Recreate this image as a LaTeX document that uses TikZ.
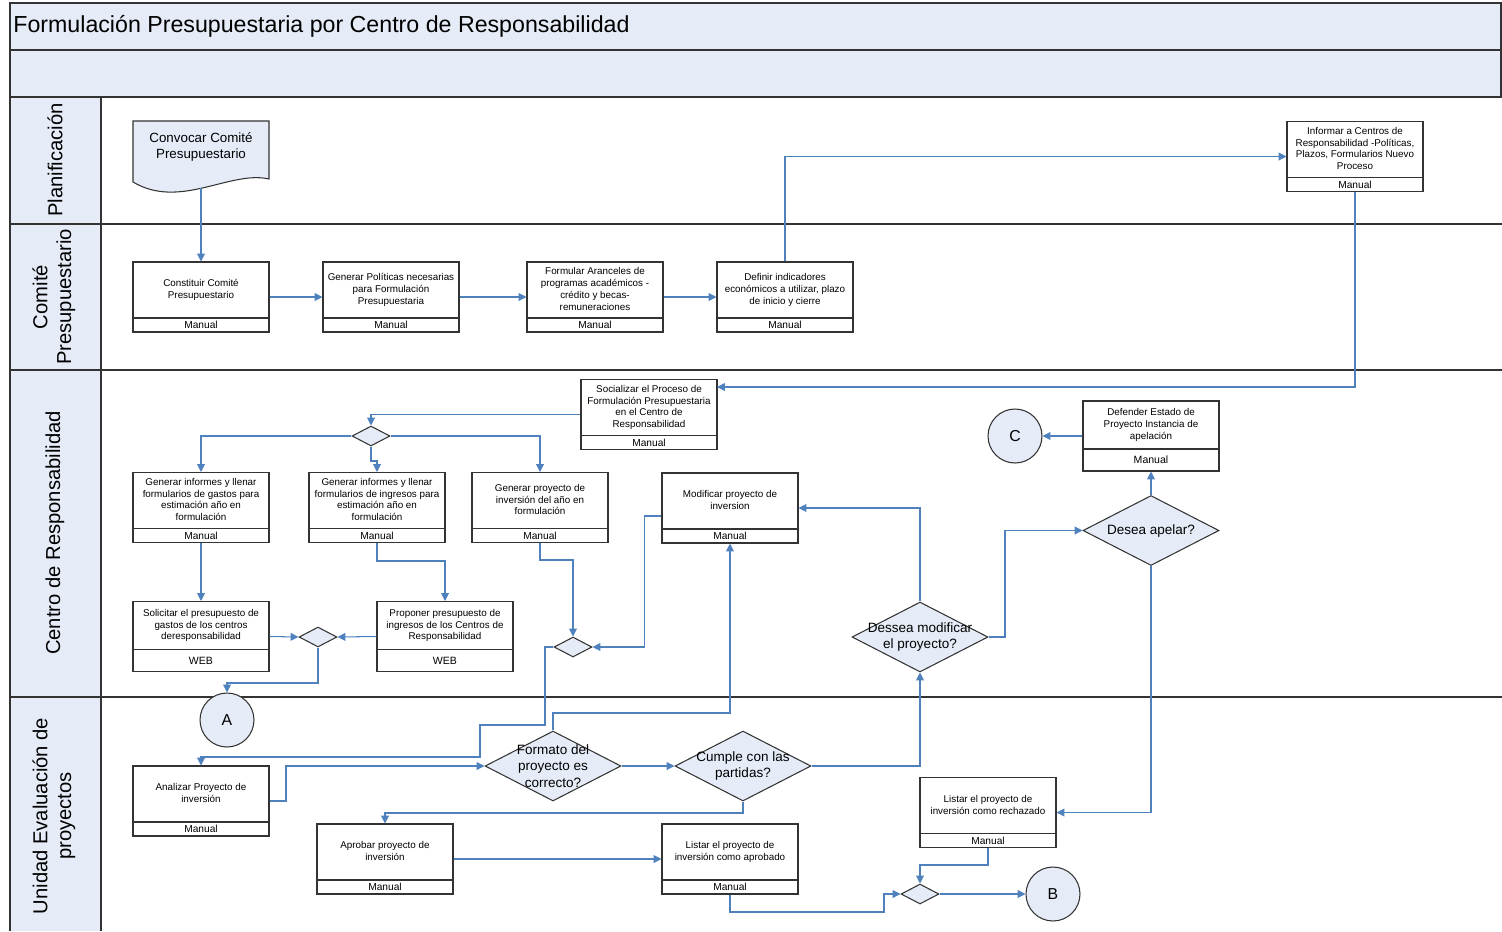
\documentclass[tikz,border=0pt]{standalone}
\usepackage{fontspec}
\setmainfont{Liberation Sans}
\usetikzlibrary{positioning,arrows.meta,shapes.geometric}
\definecolor{lane}{RGB}{230,236,247}
\definecolor{flow}{RGB}{79,129,189}
\tikzset{
  frame/.style={draw = black!80, line width = 0.8pt},
  task/.style={draw = black!80, fill = white, line width = 0.6pt, minimum width = 2.72cm,
    minimum height = 1.4cm, align = center, inner sep = 1pt,
    font = \fontsize{5.6}{6.8}\selectfont, text depth = 0.28cm+1.2pt},
  tasklow/.style={task, text depth = 0.44cm+1.2pt},
  tfoot/.style={draw = black!80, fill = white, line width = 0.6pt, minimum width = 2.72cm,
    minimum height = 0.28cm, inner sep = 0pt, font = \fontsize{5.8}{6.8}\selectfont},
  tfootlow/.style={tfoot, minimum height = 0.44cm, font = \fontsize{6}{7}\selectfont},
  gate/.style={diamond, draw = black!80, fill = lane, line width = 0.6pt, inner sep = 0pt,
    minimum width = 0.76cm, minimum height = 0.4cm},
  ask/.style={gate, minimum width = 2.72cm, minimum height = 1.4cm},
  asktext/.style={align = center, font = \fontsize{7.7}{9.2}\selectfont, inner sep = 0pt},
  jump/.style={circle, draw = black!80, fill = lane, line width = 0.6pt, minimum size = 1.08cm,
    inner sep = 0pt, font = \fontsize{9}{11}\selectfont},
  lanename/.style={rotate = 90, align = center, font = \fontsize{11.5}{13.5}\selectfont},
  link/.style={draw = flow, line width = 0.6pt, -{Triangle[length = 4.5pt, width = 4.5pt]}}
}
\begin{document}
\begin{tikzpicture}[x = 0.02cm, y = -0.02cm]
    \useasboundingbox (0,0) rectangle (1502,931);
    % bands and lanes
    \fill[color = lane] (10,3) rectangle (1502,97);
    \fill[color = lane] (10,97) rectangle (101,931);
    \draw[frame] (10,931) -- (10,3) -- (1501,3) -- (1501,97);
    \draw[frame] (10,50) -- (1502,50);
    \foreach \y in {97,224,370,697}
      \draw[frame] (10,\y) -- (1502,\y);
    \draw[frame] (101,97) -- (101,931);
    \node (title) at (13,26) [anchor = west, inner sep = 0pt, font = \fontsize{13.2}{15}\selectfont]{Formulación Presupuestaria por Centro de Responsabilidad};
    \node (l1) at (55,160) [lanename]{Planificación};
    \node (l2) at (54,297) [lanename]{Comité\\Presupuestario};
    \node (l3) at (55,533) [lanename]{Centro de Responsabilidad};
    \node (l4) at (54,816) [lanename]{Unidad Evaluación de\\proyectos};
    % Planificacion
    \filldraw[fill = lane, draw = black!80, line width = 0.6pt] (133,121) -- (269,121) -- (269,179)
      .. controls (230,170) and (180,210) .. (133,182) -- cycle;
    \node (t0) at (201,147) [align = center, font = \fontsize{7.6}{9.2}\selectfont]{Convocar Comité\\Presupuestario};
    \coordinate (t0b) at (201,188);
    \node (t5) at (1355,156.5) [task]{Informar a Centros de\\Responsabilidad -Políticas,\\Plazos, Formularios Nuevo\\Proceso};
    \node (t5f) [tfoot, above = 0pt of t5.south]{Manual};
    % Comite Presupuestario
    \node (t1) at (201,297) [task]{Constituir Comité\\Presupuestario};
    \node (t1f) [tfoot, above = 0pt of t1.south]{Manual};
    \node (t2) at (391,297) [task]{Generar Políticas necesarias\\para Formulación\\Presupuestaria};
    \node (t2f) [tfoot, above = 0pt of t2.south]{Manual};
    \node (t3) at (595,297) [task]{Formular Aranceles de\\programas académicos -\\crédito y becas-\\remuneraciones};
    \node (t3f) [tfoot, above = 0pt of t3.south]{Manual};
    \node (t4) at (785,297) [task]{Definir indicadores\\económicos a utilizar, plazo\\de inicio y cierre};
    \node (t4f) [tfoot, above = 0pt of t4.south]{Manual};
    % Centro de Responsabilidad
    \node (t6) at (649,414.5) [task]{Socializar el Proceso de\\Formulación Presupuestaria\\en el Centro de\\Responsabilidad};
    \node (t6f) [tfoot, above = 0pt of t6.south]{Manual};
    \node (d1) at (371,436) [gate]{};
    \node (t7) at (201,507.5) [task]{Generar informes y llenar\\formularios de gastos para\\estimación año en\\formulación};
    \node (t7f) [tfoot, above = 0pt of t7.south]{Manual};
    \node (t8) at (377,507.5) [task]{Generar informes y llenar\\formularios de ingresos para\\estimación año en\\formulación};
    \node (t8f) [tfoot, above = 0pt of t8.south]{Manual};
    \node (t9) at (540,507.5) [task]{Generar proyecto de\\inversión del año en\\formulación};
    \node (t9f) [tfoot, above = 0pt of t9.south]{Manual};
    \node (t10) at (730,508) [task]{Modificar proyecto de\\inversion};
    \node (t10f) [tfoot, above = 0pt of t10.south]{Manual};
    \node (t11) at (1151,436) [tasklow]{Defender Estado de\\Proyecto Instancia de\\apelación};
    \node (t11f) [tfootlow, above = 0pt of t11.south]{Manual};
    \node (cc) at (1015,436) [jump]{C};
    \node (t12) at (201,636.5) [tasklow]{Solicitar el presupuesto de\\gastos de los centros\\deresponsabilidad};
    \node (t12f) [tfootlow, above = 0pt of t12.south]{WEB};
    \node (t13) at (445,636.5) [tasklow]{Proponer presupuesto de\\ingresos de los Centros de\\Responsabilidad};
    \node (t13f) [tfootlow, above = 0pt of t13.south]{WEB};
    \node (d2) at (318,637) [gate]{};
    \node (d3) at (573,647) [gate]{};
    \node (d7) at (920,637) [ask, label = {[asktext]center:Dessea modificar\\el proyecto?}]{};
    \node (d8) at (1151,530.5) [ask, label = {[asktext]center:Desea apelar?}]{};
    % Unidad Evaluacion de proyectos
    \node (ca) at (227,720) [jump]{A};
    \node (t14) at (201,801) [task]{Analizar Proyecto de\\inversión};
    \node (t14f) [tfoot, above = 0pt of t14.south]{Manual};
    \node (d5) at (553,766) [ask, label = {[asktext]center:Formato del\\proyecto es\\correcto?}]{};
    \node (d6) at (743,766) [ask, label = {[asktext]center:Cumple con las\\partidas?}]{};
    \node (t15) at (385,859) [task]{Aprobar proyecto de\\inversión};
    \node (t15f) [tfoot, above = 0pt of t15.south]{Manual};
    \node (t16) at (730,859) [task]{Listar el proyecto de\\inversión como aprobado};
    \node (t16f) [tfoot, above = 0pt of t16.south]{Manual};
    \node (t17) at (988,812.5) [task]{Listar el proyecto de\\inversión como rechazado};
    \node (t17f) [tfoot, above = 0pt of t17.south]{Manual};
    \node (d9) at (920,894) [gate]{};
    \node (cb) at (1053,894) [jump]{B};
    % flow
    \draw[link] (t0b) -- (t1.north);
    \draw[link] (t1.east) -- (t2.west);
    \draw[link] (t2.east) -- (t3.west);
    \draw[link] (t3.east) -- (t4.west);
    \draw[link] (t4.north) |- (t5.west);
    \draw[link] (t5.south) |- (717,387);
    \draw[link] (t6.west) -| (d1.north);
    \draw[link] (d1.west) -| (t7.north);
    \draw[link] (d1.south) -- (371,461) -| (t8.north);
    \draw[link] (d1.east) -| (t9.north);
    \draw[link] (t7.south) -- (t12.north);
    \draw[link] (t8.south) -- (377,561) -| (t13.north);
    \draw[link] (t9.south) -- (540,560) -| (d3.north);
    \draw[link] (t12.east) -- (d2.west);
    \draw[link] (t13.west) -- (d2.east);
    \draw[link] (d2.south) -- (318,683) -| (ca.north);
    \draw[link] ([yshift = -0.16cm]t10.west) -- ++(-17,0) |- (d3.east);
    \draw[link] (d3.west) -| (545,725) -| (480,757) -| (t14.north);
    \draw[link] (t14.east) -- (286,801) |- (d5.west);
    \draw[link] (d5.north) |- (730,713) -- (t10.south);
    \draw[link] (d5.east) -- (d6.west);
    \draw[link] (d6.east) -| (d7.south);
    \draw[link] (d6.south) -- (743,813) -| (t15.north);
    \draw[link] (t15.east) -- (t16.west);
    \draw[link] (t16.south) |- (884,912) |- (d9.west);
    \draw[link] (t17.south) |- (920,865) -- (d9.north);
    \draw[link] (d9.east) -- (cb.west);
    \draw[link] (d7.north) |- (t10.east);
    \draw[link] (d7.east) -- (1005,637) |- (d8.west);
    \draw[link] (d8.north) -- (t11.south);
    \draw[link] (t11.west) -- (cc.east);
    \draw[link] (d8.south) |- (t17.east);
  \end{tikzpicture}
\end{document}
